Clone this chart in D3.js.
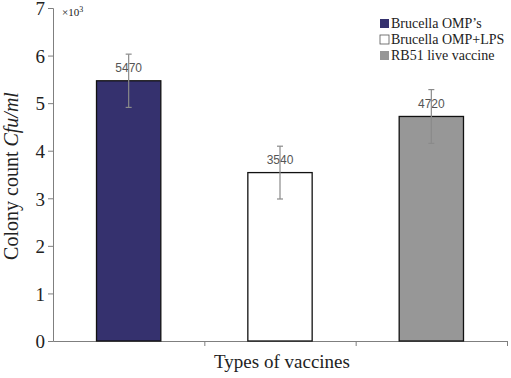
<!doctype html>
<html>
  <head>
    <script src="https://cdnjs.cloudflare.com/ajax/libs/d3/7.8.5/d3.min.js"></script>
  <style>
    body { margin: 0; background: #fff; }
  </style>
  </head>
  <body>
    <div id="viz">
      <svg style="width:511px;height:378px;" font-family="Liberation Serif, DejaVu Serif, serif"></svg>
    </div>
    <script>
      // values in units of 10^3 Cfu/ml
      var vaccines = ["Brucella OMP\u2019s", "Brucella OMP+LPS", "RB51 live vaccine"];
      var counts = [5470, 3540, 4720];
      var errors = [560, 555, 565];
      var colors = ["#35316e", "#ffffff", "#979797"];
      var yTicks = [0, 1, 2, 3, 4, 5, 6, 7];

      var svg = d3.select("svg");

      var xScale = d3.scaleBand().domain(vaccines).range([53, 507]).paddingInner(0.575).paddingOuter(0.2875);
      var yScale = d3.scaleLinear().domain([0, 7000]).range([341, 8]);

      // y axis
      var yAxis = d3.axisLeft(yScale)
        .tickValues(yTicks.map(d => d * 1000))
        .tickFormat(d => d / 1000)
        .tickSize(5)
        .tickPadding(3);
      var yG = svg.append("g").attr("transform", "translate(53,0)").call(yAxis);
      yG.attr("font-family", null).attr("font-size", null);
      yG.select("path.domain").attr("stroke", "#7f7f7f");
      yG.selectAll(".tick line").attr("stroke", "#7f7f7f");
      yG.selectAll(".tick text")
        .attr("font-size", 19)
        .attr("dy", "0.36em")
        .attr("fill", "#222");

      svg.append("text")
        .attr("x", 62).attr("y", 16)
        .attr("font-size", 11).attr("fill", "#222")
        .html("\u00d710<tspan dy='-4' font-size='8'>3</tspan>");

      // x axis: ticks at category boundaries
      var xBase = d3.scaleLinear().domain([0, 3]).range([53, 507]);
      var xAxis = d3.axisBottom(xBase).tickValues([1, 2, 3]).tickFormat("").tickSize(5).tickSizeOuter(0);
      var xG = svg.append("g").attr("transform", "translate(0,341)").call(xAxis);
      xG.select("path.domain").attr("stroke", "#7f7f7f");
      xG.selectAll(".tick line").attr("stroke", "#7f7f7f");

      // bars
      svg.selectAll("rect.bar")
        .data(counts)
        .enter()
        .append("rect")
          .attr("class", "bar")
          .attr("x", (d, i) => xScale(vaccines[i]))
          .attr("y", d => yScale(d))
          .attr("width", xScale.bandwidth())
          .attr("height", d => yScale(0) - yScale(d))
          .attr("fill", (d, i) => colors[i])
          .attr("stroke", "#111")
          .attr("stroke-width", 1.3);

      // value labels (drawn before error bars, which sit over them)
      svg.selectAll("text.val")
        .data(counts)
        .enter()
        .append("text")
          .attr("class", "val")
          .attr("x", (d, i) => xScale(vaccines[i]) + xScale.bandwidth() / 2)
          .attr("y", d => yScale(d) - 8.5)
          .attr("text-anchor", "middle")
          .attr("font-family", "Liberation Sans, Arial, sans-serif")
          .attr("font-size", 12)
          .attr("fill", "#555")
          .text(d => d);

      // error bars
      var eb = svg.selectAll("g.err")
        .data(counts)
        .enter()
        .append("g")
          .attr("class", "err")
          .attr("stroke", "#8a8a8a")
          .attr("stroke-width", 1.2);
      eb.append("line")
        .attr("x1", (d, i) => xScale(vaccines[i]) + xScale.bandwidth() / 2)
        .attr("x2", (d, i) => xScale(vaccines[i]) + xScale.bandwidth() / 2)
        .attr("y1", (d, i) => yScale(d + errors[i]))
        .attr("y2", (d, i) => yScale(d - errors[i]));
      [1, -1].forEach(function (s) {
        eb.append("line")
          .attr("x1", (d, i) => xScale(vaccines[i]) + xScale.bandwidth() / 2 - 3)
          .attr("x2", (d, i) => xScale(vaccines[i]) + xScale.bandwidth() / 2 + 3)
          .attr("y1", (d, i) => yScale(d + s * errors[i]))
          .attr("y2", (d, i) => yScale(d + s * errors[i]));
      });

      // axis titles
      var yt = svg.append("text")
        .attr("transform", "translate(18,176) rotate(-90)")
        .attr("text-anchor", "middle")
        .attr("font-size", 20)
        .attr("fill", "#222");
      yt.append("tspan").text("Colony count ");
      yt.append("tspan").attr("font-style", "italic").text("Cfu/ml");

      svg.append("text")
        .attr("x", 282).attr("y", 368)
        .attr("text-anchor", "middle")
        .attr("font-size", 19)
        .attr("fill", "#222")
        .text("Types of vaccines");

      // legend
      var lg = svg.selectAll("g.legend")
        .data(vaccines)
        .enter()
        .append("g")
          .attr("class", "legend")
          .attr("transform", (d, i) => "translate(380," + (19 + i * 16) + ")");
      lg.append("rect")
        .attr("width", 9).attr("height", 9)
        .attr("fill", (d, i) => colors[i])
        .attr("stroke", (d, i) => i == 1 ? "#555" : "none")
        .attr("stroke-width", 0.8);
      lg.append("text")
        .attr("x", 11).attr("y", 9)
        .attr("font-size", 14)
        .attr("fill", "#222")
        .text(d => d);
    </script>
  </body>
</html>
